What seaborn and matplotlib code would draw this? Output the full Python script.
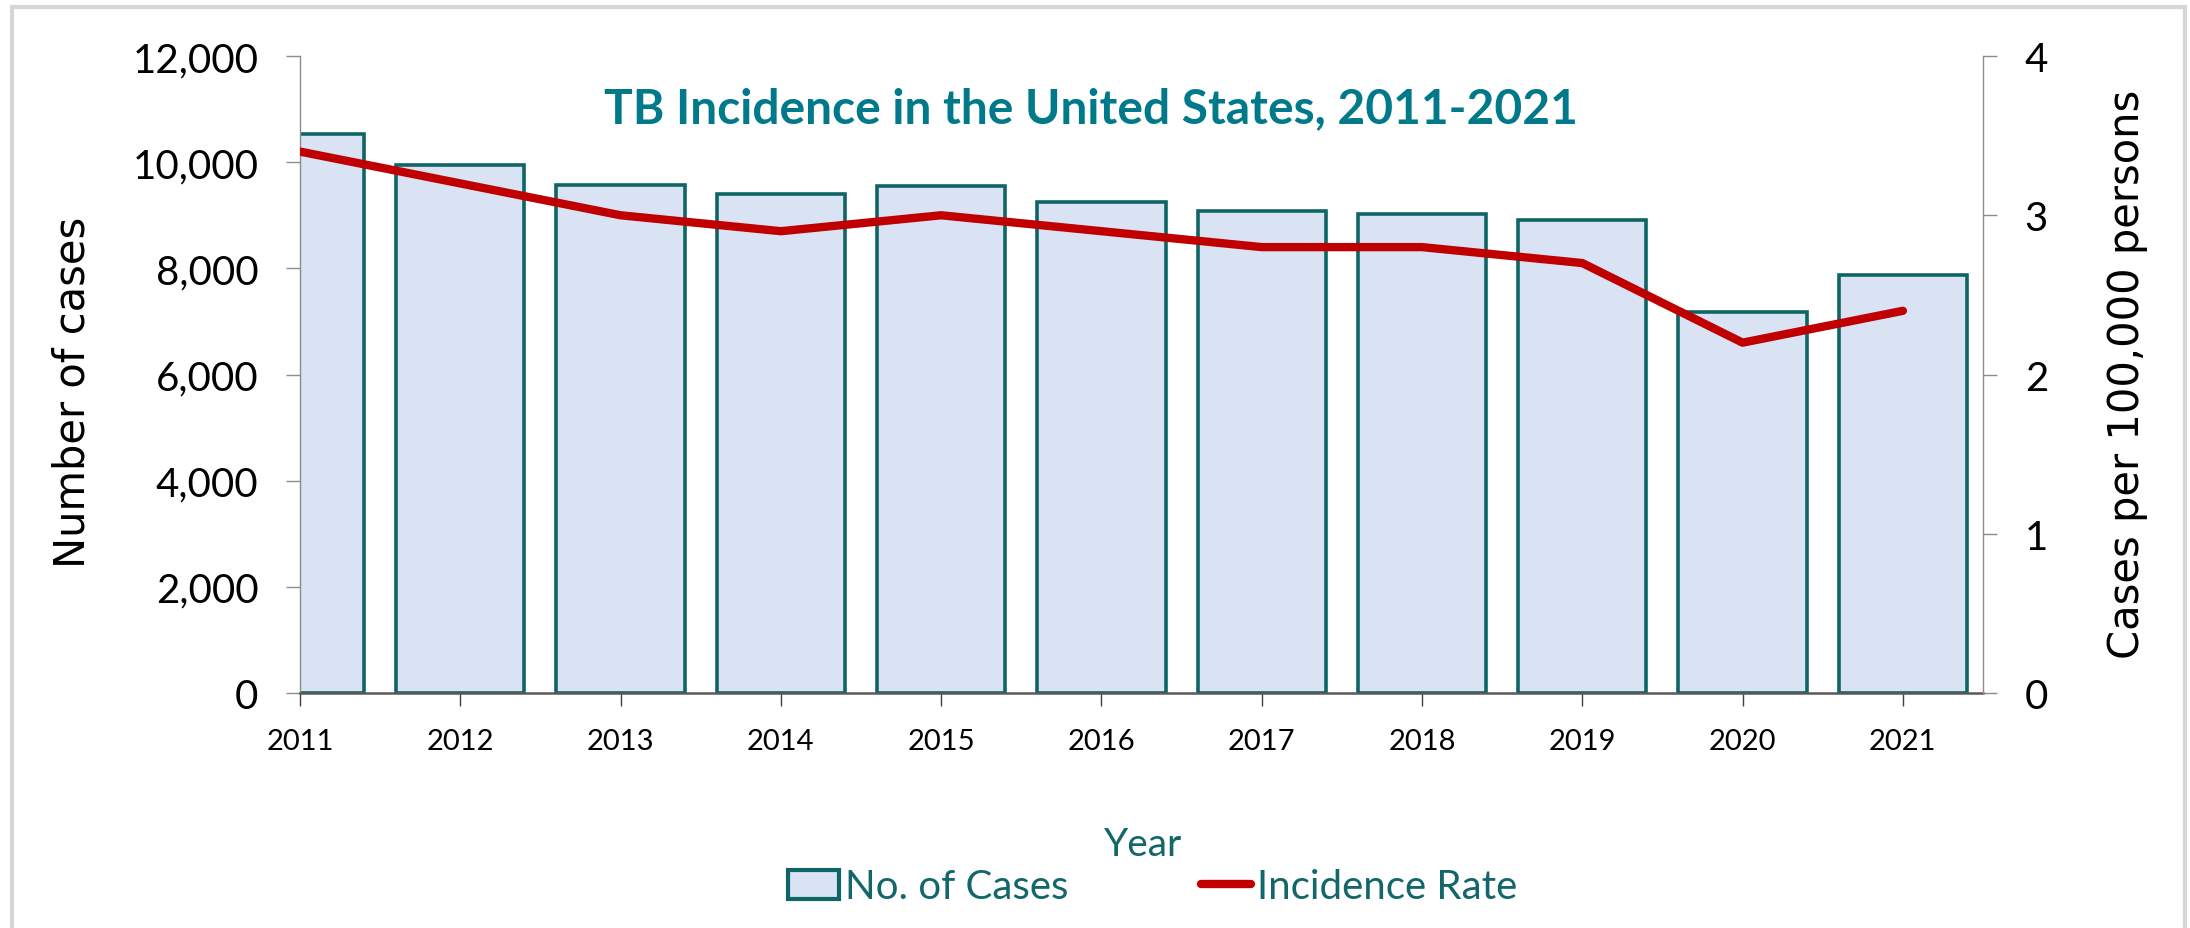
import numpy as np
import pandas as pd
import matplotlib
matplotlib.use("Agg")
import matplotlib.pyplot as plt
import seaborn as sns
from matplotlib.patches import Patch, Rectangle
from matplotlib.lines import Line2D
from matplotlib.ticker import FuncFormatter

# ---- data ----
years = ["2011", "2012", "2013", "2014", "2015", "2016", "2017", "2018", "2019", "2020", "2021"]
cases = [10528, 9945, 9565, 9406, 9547, 9255, 9072, 9021, 8904, 7171, 7874]
rates = [3.4, 3.2, 3.0, 2.9, 3.0, 2.9, 2.8, 2.8, 2.7, 2.2, 2.4]
left_ticks = [0, 2000, 4000, 6000, 8000, 10000, 12000]
right_ticks = [0, 1, 2, 3, 4]

title_text = "TB Incidence in the United States, 2011-2021"
xlabel_text = "Year"
ylabel_left = "Number of cases"
ylabel_right = "Cases per 100,000 persons"
legend_labels = ["No. of Cases", "Incidence Rate"]

# ---- style ----
BAR_FILL = "#DAE3F3"
BAR_EDGE = "#0F6466"
LINE_RED = "#C00000"
TEAL_TITLE = "#00798A"
TEAL_TEXT = "#13676A"
SANS = ["Lato", "DejaVu Sans"]

sns.set_style("ticks")
plt.rcParams["font.family"] = ["DejaVu Sans"]

df = pd.DataFrame({"year": years, "cases": cases, "rate": rates})

fig = plt.figure(figsize=(21.9, 9.29), dpi=100)
ax = fig.add_axes([300 / 2190, 0.2530, (1983 - 300) / 2190, 0.9386 - 0.2530])

sns.barplot(data=df, x="year", y="cases", ax=ax, color=BAR_FILL, saturation=1,
            width=0.8, edgecolor=BAR_EDGE, linewidth=2.6)
for p in ax.patches:
    p.set_facecolor(BAR_FILL)
    p.set_edgecolor(BAR_EDGE)

ax.set_xlim(0, 10.5)
ax.set_ylim(0, 12000)
ax.set_yticks(left_ticks)
ax.yaxis.set_major_formatter(FuncFormatter(lambda v, p: f"{int(v):,}"))
ax.set_xlabel("")
ax.set_ylabel("")

ax2 = ax.twinx()
positions = np.arange(len(years))
sns.lineplot(x=positions, y=rates, ax=ax2, color=LINE_RED, linewidth=6,
             legend=False, solid_capstyle="round", solid_joinstyle="round")
ax2.set_ylim(0, 4)
ax2.set_yticks(right_ticks)
ax2.set_xlim(0, 10.5)
ax2.set_ylabel("")

# spines
for a in (ax, ax2):
    a.spines["top"].set_visible(False)
    a.spines["left"].set_color("#8C8C8C")
    a.spines["left"].set_linewidth(1.0)
    a.spines["right"].set_color("#8C8C8C")
    a.spines["right"].set_linewidth(1.0)
    a.spines["bottom"].set_color("#595959")
    a.spines["bottom"].set_linewidth(1.8)
ax.spines["right"].set_visible(False)
ax2.spines["left"].set_visible(False)
ax2.spines["bottom"].set_visible(False)

ax.tick_params(axis="y", direction="out", length=10, width=1, color="#8C8C8C",
               pad=20, labelsize=29, labelcolor="black")
ax.tick_params(axis="x", direction="out", length=9, width=1, color="#404040",
               pad=16, labelsize=21, labelcolor="black")
ax2.tick_params(axis="y", direction="out", length=10, width=1, color="#8C8C8C",
                pad=20, labelsize=29, labelcolor="black")
for lab in ax.get_xticklabels() + ax.get_yticklabels() + ax2.get_yticklabels():
    lab.set_fontfamily(SANS)

# texts
fig.text(1091 / 2190, 1 - 109 / 929, title_text, ha="center", va="center",
         fontsize=34.5, fontweight="bold", color=TEAL_TITLE, family=SANS)
fig.text(1143 / 2190, 1 - 845 / 929, xlabel_text, ha="center", va="center",
         fontsize=28, color=TEAL_TEXT, family=SANS)
fig.text(73 / 2190, 1 - 392 / 929, ylabel_left, ha="center", va="center",
         rotation=90, fontsize=30, color="black", family=["DejaVu Sans"])
fig.text(2127 / 2190, 1 - 374 / 929, ylabel_right, ha="center", va="center",
         rotation=90, fontsize=30, color="black", family=["DejaVu Sans"])

# legend
handles = [Patch(facecolor=BAR_FILL, edgecolor=BAR_EDGE, linewidth=3.0),
           Line2D([0], [0], color=LINE_RED, linewidth=6, solid_capstyle="round")]
leg = fig.legend(handles, legend_labels, loc="center",
                 bbox_to_anchor=(1153 / 2190, 1 - 888 / 929), ncol=2, frameon=False,
                 prop={"family": SANS, "size": 29}, handlelength=1.25,
                 handletextpad=0.15, columnspacing=3.3, labelcolor=TEAL_TEXT)

# outer border
fig.patches.append(Rectangle((12 / 2190, -0.05), (2185 - 12) / 2190, 1.05 - 8 / 929,
                             transform=fig.transFigure, fill=False,
                             edgecolor="#D6D6D6", linewidth=3.0, zorder=-1))

fig.savefig("out.png", dpi=100)
